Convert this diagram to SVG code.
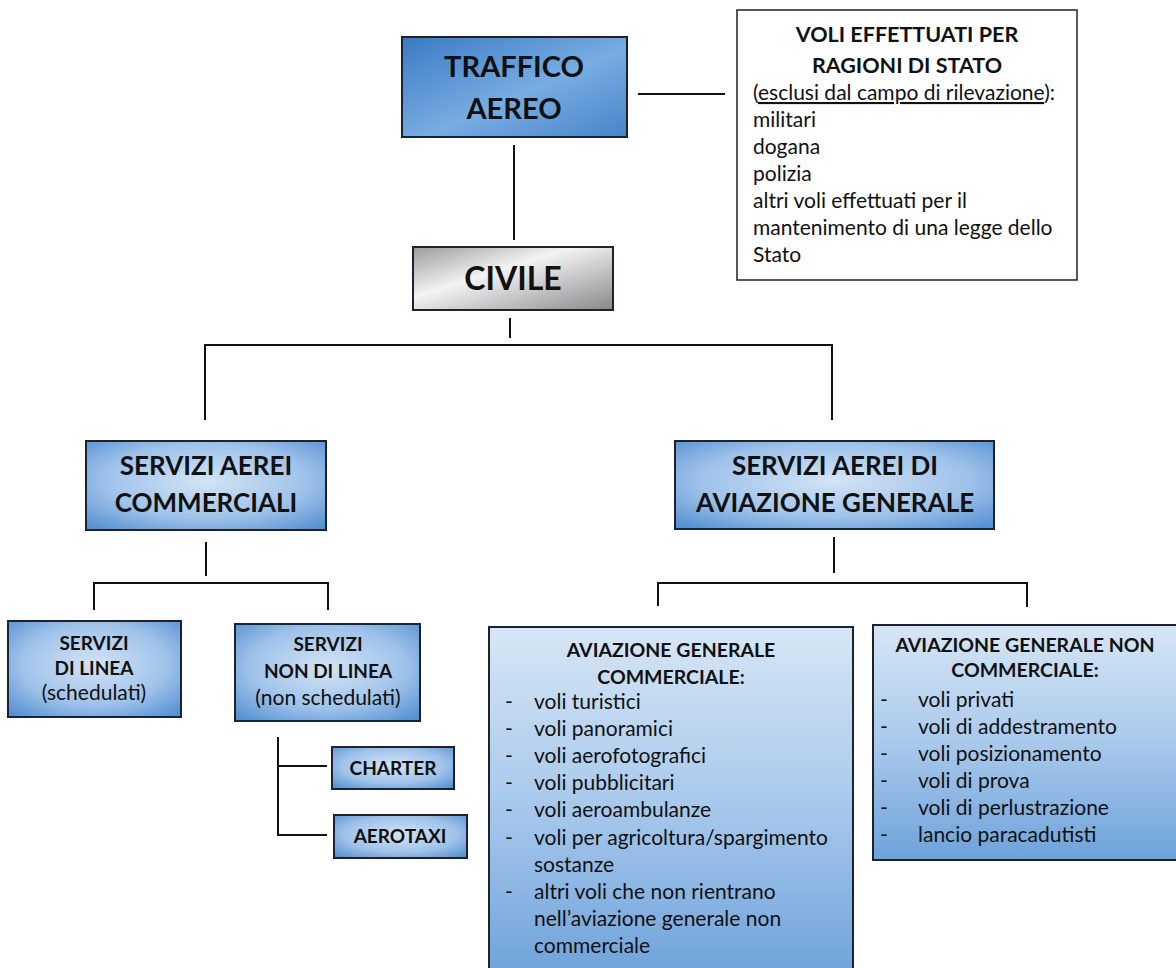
<svg xmlns="http://www.w3.org/2000/svg" width="1176" height="968" viewBox="0 0 1176 968">
<defs>
<linearGradient id="gTop" x1="0" y1="0" x2="1" y2="1">
<stop offset="0" stop-color="#3a7ac4"/>
<stop offset="0.55" stop-color="#78ace2"/>
<stop offset="1" stop-color="#4785c8"/>
</linearGradient>
<radialGradient id="gMid" cx="0.5" cy="0.45" r="0.7">
<stop offset="0" stop-color="#d3e4f5"/>
<stop offset="0.6" stop-color="#9fc2ea"/>
<stop offset="1" stop-color="#5691d2"/>
</radialGradient>
<linearGradient id="gGray" x1="0" y1="0" x2="1" y2="1">
<stop offset="0" stop-color="#9a9a9a"/>
<stop offset="0.4" stop-color="#f3f3f3"/>
<stop offset="1" stop-color="#888888"/>
</linearGradient>
<linearGradient id="gBig" x1="0" y1="0" x2="0" y2="1">
<stop offset="0" stop-color="#d6e6f5"/>
<stop offset="0.5" stop-color="#a9c9ec"/>
<stop offset="1" stop-color="#6ea2da"/>
</linearGradient>
</defs>
<style>
.box{stroke:#1d2230;stroke-width:2}
.h{font-family:Lato,"Liberation Sans",sans-serif;font-weight:bold;fill:#111;text-anchor:middle}
.t{font-family:Lato,"Liberation Sans",sans-serif;fill:#111}
.c{text-anchor:middle}
.ln{stroke:#111;stroke-width:2;fill:none}
</style>
<rect width="1176" height="968" fill="#ffffff"/>
<g id="connectors">
<line class="ln" x1="638" y1="94" x2="725" y2="94"/>
<line class="ln" x1="514" y1="145" x2="514" y2="240"/>
<line class="ln" x1="510" y1="318" x2="510" y2="338"/>
<polyline class="ln" points="205,420 205,345 832,345 832,420"/>
<line class="ln" x1="206" y1="542" x2="206" y2="576"/>
<polyline class="ln" points="94,610 94,583 328,583 328,610"/>
<polyline class="ln" points="278,737 278,835 327,835"/>
<line class="ln" x1="278" y1="766" x2="327" y2="766"/>
<line class="ln" x1="834" y1="537" x2="834" y2="573"/>
<polyline class="ln" points="658,606 658,583 1027,583 1027,607"/>
</g>
<g id="traffico">
<rect class="box" x="402" y="37" width="225" height="100" fill="url(#gTop)"/>
<text class="h" x="514" y="77" font-size="29">TRAFFICO</text>
<text class="h" x="514" y="119" font-size="29">AEREO</text>
</g>
<g id="stato">
<rect x="737" y="10" width="340" height="270" fill="#fff" stroke="#222" stroke-width="1.5"/>
<text class="h" x="907" y="42" font-size="21.5">VOLI EFFETTUATI PER</text>
<text class="h" x="907" y="73" font-size="21.5">RAGIONI DI STATO</text>
<text class="t" font-size="21" x="753" y="100">(<tspan text-decoration="underline">esclusi dal campo di rilevazione</tspan>):</text>
<text class="t" font-size="21" x="753" y="127">militari</text>
<text class="t" font-size="21" x="753" y="154">dogana</text>
<text class="t" font-size="21" x="753" y="181">polizia</text>
<text class="t" font-size="21" x="753" y="208">altri voli effettuati per il</text>
<text class="t" font-size="21" x="753" y="235">mantenimento di una legge dello</text>
<text class="t" font-size="21" x="753" y="262">Stato</text>
</g>
<g id="civile">
<rect class="box" x="413" y="247" width="200" height="63" fill="url(#gGray)"/>
<text class="h" x="513" y="290" font-size="32">CIVILE</text>
</g>
<g id="commerciali">
<rect class="box" x="86" y="441" width="240" height="89" fill="url(#gMid)"/>
<text class="h" x="206" y="475" font-size="26">SERVIZI AEREI</text>
<text class="h" x="206" y="512" font-size="26">COMMERCIALI</text>
</g>
<g id="aviazione">
<rect class="box" x="675" y="441" width="319" height="88" fill="url(#gMid)"/>
<text class="h" x="835" y="475" font-size="26">SERVIZI AEREI DI</text>
<text class="h" x="835" y="512" font-size="26">AVIAZIONE GENERALE</text>
</g>
<g id="linea">
<rect class="box" x="8" y="621" width="173" height="96" fill="url(#gMid)"/>
<text class="h" x="94" y="650" font-size="19">SERVIZI</text>
<text class="h" x="94" y="675" font-size="19">DI LINEA</text>
<text class="t c" x="94" y="700" font-size="21">(schedulati)</text>
</g>
<g id="nonlinea">
<rect class="box" x="235" y="624" width="185" height="97" fill="url(#gMid)"/>
<text class="h" x="328" y="651" font-size="19">SERVIZI</text>
<text class="h" x="328" y="678" font-size="19">NON DI LINEA</text>
<text class="t c" x="328" y="705" font-size="21">(non schedulati)</text>
</g>
<g id="charter">
<rect class="box" x="332" y="747" width="122" height="42" fill="url(#gMid)"/>
<text class="h" x="393" y="775" font-size="19">CHARTER</text>
</g>
<g id="aerotaxi">
<rect class="box" x="334" y="815" width="133" height="43" fill="url(#gMid)"/>
<text class="h" x="400" y="843" font-size="19">AEROTAXI</text>
</g>
<g id="agcommerciale">
<rect class="box" x="489" y="627" width="364" height="350" fill="url(#gBig)"/>
<text class="h" x="671" y="657" font-size="19.5">AVIAZIONE GENERALE</text>
<text class="h" x="671" y="684" font-size="19.5">COMMERCIALE:</text>
<g class="t" font-size="21">
<text x="505" y="709">-</text><text x="534" y="709">voli turistici</text>
<text x="505" y="736">-</text><text x="534" y="736">voli panoramici</text>
<text x="505" y="763">-</text><text x="534" y="763">voli aerofotografici</text>
<text x="505" y="790">-</text><text x="534" y="790">voli pubblicitari</text>
<text x="505" y="817">-</text><text x="534" y="817">voli aeroambulanze</text>
<text x="505" y="845">-</text><text x="534" y="845">voli per agricoltura/spargimento</text>
<text x="534" y="872">sostanze</text>
<text x="505" y="899">-</text><text x="534" y="899">altri voli che non rientrano</text>
<text x="534" y="926">nell’aviazione generale non</text>
<text x="534" y="953">commerciale</text>
</g>
</g>
<g id="agnoncommerciale">
<rect class="box" x="873" y="625" width="310" height="235" fill="url(#gBig)"/>
<text class="h" x="1025" y="652" font-size="19.5">AVIAZIONE GENERALE NON</text>
<text class="h" x="1025" y="677" font-size="19.5">COMMERCIALE:</text>
<g class="t" font-size="21">
<text x="880" y="707">-</text><text x="918" y="707">voli privati</text>
<text x="880" y="734">-</text><text x="918" y="734">voli di addestramento</text>
<text x="880" y="761">-</text><text x="918" y="761">voli posizionamento</text>
<text x="880" y="788">-</text><text x="918" y="788">voli di prova</text>
<text x="880" y="815">-</text><text x="918" y="815">voli di perlustrazione</text>
<text x="880" y="842">-</text><text x="918" y="842">lancio paracadutisti</text>
</g>
</g>
</svg>
